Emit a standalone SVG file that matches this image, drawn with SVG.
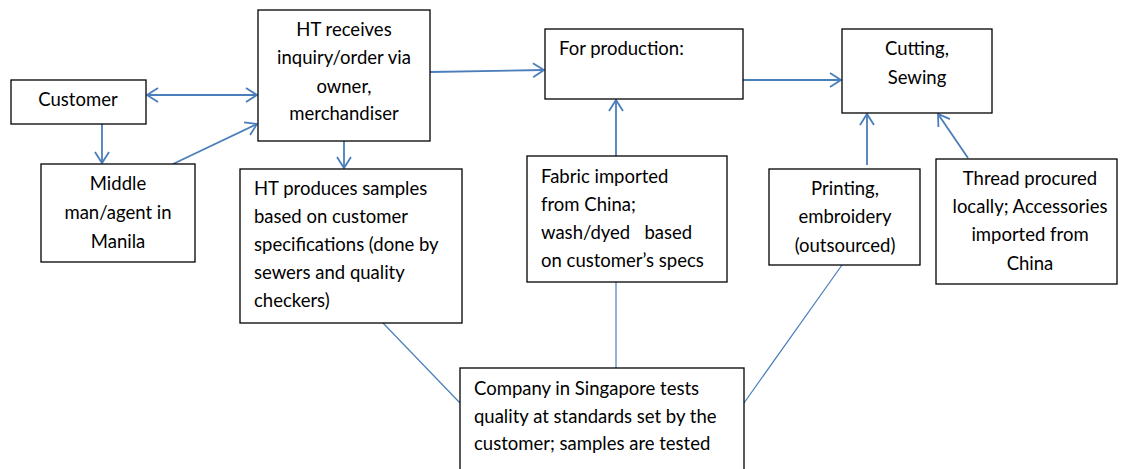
<svg xmlns="http://www.w3.org/2000/svg" width="1124" height="469" viewBox="0 0 1124 469">
<defs>
<marker id="ah" markerUnits="userSpaceOnUse" markerWidth="14" markerHeight="16" viewBox="0 0 14 16" refX="12" refY="8" orient="auto-start-reverse">
<path d="M1,1 L12,8 L1,15" fill="none" stroke="#4a7ebb" stroke-width="1.8"/>
</marker>
</defs>
<style>
.box{fill:#fff;stroke:#000;stroke-width:1.3}
.t{font-family:Lato,"Liberation Sans",sans-serif;font-size:18.5px;fill:#000}
.c{text-anchor:middle}
.a{fill:none;stroke:#4a7ebb;stroke-width:1.8;marker-end:url(#ah)}
.l{fill:none;stroke:#4a7ebb;stroke-width:1.2}
</style>
<rect width="1124" height="469" fill="#fff"/>
<g id="connectors">
<line class="a" x1="147" y1="95" x2="257" y2="95" style="marker-start:url(#ah)"/>
<line class="a" x1="102" y1="124" x2="102" y2="163"/>
<line class="a" x1="173" y1="164" x2="257" y2="124"/>
<line class="a" x1="344" y1="141" x2="344" y2="168"/>
<line class="a" x1="430" y1="72" x2="544" y2="70"/>
<line class="a" x1="743" y1="80" x2="841" y2="80"/>
<line class="a" x1="616" y1="156" x2="616" y2="100"/>
<line class="a" x1="867" y1="165" x2="867" y2="114"/>
<line class="a" x1="968" y1="158" x2="938" y2="114"/>
<line class="l" x1="383" y1="323" x2="460" y2="403"/>
<line class="l" x1="616" y1="282" x2="616" y2="368"/>
<line class="l" x1="842" y1="265" x2="744" y2="403"/>
</g>
<g id="customer">
<rect class="box" x="11" y="80" width="135" height="44"/>
<text class="t c" x="78" y="106">Customer</text>
</g>
<g id="ht-receives">
<rect class="box" x="258" y="10" width="172" height="131"/>
<text class="t c" x="344" y="36">HT receives</text>
<text class="t c" x="344" y="64">inquiry/order via</text>
<text class="t c" x="344" y="93">owner,</text>
<text class="t c" x="344" y="120">merchandiser</text>
</g>
<g id="middle-man">
<rect class="box" x="41" y="164" width="154" height="98"/>
<text class="t c" x="118" y="190">Middle</text>
<text class="t c" x="118" y="219">man/agent in</text>
<text class="t c" x="118" y="248">Manila</text>
</g>
<g id="ht-produces">
<rect class="box" x="240" y="169" width="222" height="154"/>
<text class="t" x="254" y="195">HT produces samples</text>
<text class="t" x="254" y="223">based on customer</text>
<text class="t" x="254" y="251">specifications (done by</text>
<text class="t" x="254" y="279">sewers and quality</text>
<text class="t" x="254" y="307">checkers)</text>
</g>
<g id="for-production">
<rect class="box" x="545" y="29" width="198" height="70"/>
<text class="t" x="559" y="55">For production:</text>
</g>
<g id="cutting-sewing">
<rect class="box" x="842" y="29" width="150" height="84"/>
<text class="t c" x="917" y="55">Cutting,</text>
<text class="t c" x="917" y="84">Sewing</text>
</g>
<g id="fabric">
<rect class="box" x="527" y="156" width="200" height="126"/>
<text class="t" x="541" y="183">Fabric imported</text>
<text class="t" x="541" y="211">from China;</text>
<text class="t" x="541" y="239" xml:space="preserve">wash/dyed   based</text>
<text class="t" x="541" y="267">on customer’s specs</text>
</g>
<g id="printing">
<rect class="box" x="769" y="169" width="151" height="96"/>
<text class="t c" x="845" y="195">Printing,</text>
<text class="t c" x="845" y="223">embroidery</text>
<text class="t c" x="845" y="252">(outsourced)</text>
</g>
<g id="thread">
<rect class="box" x="936" y="159" width="181" height="125"/>
<text class="t c" x="1030" y="185">Thread procured</text>
<text class="t c" x="1030" y="213">locally; Accessories</text>
<text class="t c" x="1030" y="241">imported from</text>
<text class="t c" x="1030" y="270">China</text>
</g>
<g id="company">
<rect class="box" x="460" y="368" width="284" height="110"/>
<text class="t" x="474" y="395">Company in Singapore tests</text>
<text class="t" x="474" y="423">quality at standards set by the</text>
<text class="t" x="474" y="450">customer; samples are tested</text>
</g>
</svg>
